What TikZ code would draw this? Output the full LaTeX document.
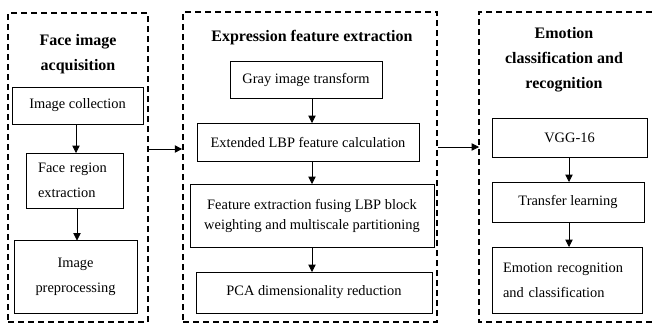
\documentclass[tikz,border=0pt]{standalone}
\usepackage{fontspec}
\setmainfont{Liberation Serif}
\usetikzlibrary{arrows.meta}

\newcommand{\px}{0.75pt}

\tikzset{
	stage/.style={draw, line width=1.3pt, dash pattern=on 4.5pt off 3pt, inner sep=0pt},
	box/.style={draw, line width=0.6pt, inner sep=0pt, outer sep=0pt, align=center,
		font=\fontsize{10.8}{18.75}\selectfont},
	heading/.style={align=center, inner sep=0pt, font=\fontsize{12}{18.5}\selectfont\bfseries},
	flow/.style={-{Triangle[length=5.5pt,width=5.5pt]}, line width=0.6pt},
}

\begin{document}
\begin{tikzpicture}[x=\px, y=-\px]
		\useasboundingbox (0,0) rectangle (652,325);
		
		% three stages, the last one is open to the right
		\node[stage, minimum width=140*\px, minimum height=309*\px] (grpA) at (78,167.5) {};
		\node[stage, minimum width=254*\px, minimum height=310*\px] (grpB) at (310,167) {};
		\draw[stage] (652,12) -| (479,322) -- (652,322);
		\coordinate (grpC) at (479,147);
		
		\node[heading] (hA) at (78,54) {Face image\\acquisition};
		\node[heading] (hB) at (312,38) {Expression feature extraction};
		\node[heading, font=\fontsize{12}{18.9}\selectfont\bfseries] (hC) at (564,60) {Emotion\\classification and\\recognition};
		
		% face image acquisition
		\node[box, minimum width=131*\px, minimum height=37*\px] (a1) at (77.5,105.5) {Image collection};
		\node[box, minimum width=97*\px, minimum height=55*\px, align=left, text width=73*\px] (a2) at (74.5,180.5) {Face region\\extraction};
		\node[box, minimum width=123*\px, minimum height=73*\px] (a3) at (75.5,277) {Image\\preprocessing};
		
		\draw[flow] (a1.south -| 76,0) -- (a2.north -| 76,0);
		\draw[flow] (a2.south -| 77,0) -- (a3.north -| 77,0);
		
		% expression feature extraction
		\node[box, minimum width=152*\px, minimum height=37*\px] (b1) at (306,79.5) {Gray image transform};
		\node[box, minimum width=222*\px, minimum height=38*\px] (b2) at (308,142) {Extended LBP feature calculation};
		\node[box, minimum width=244*\px, minimum height=63*\px, font=\fontsize{10.8}{15}\selectfont] (b3) at (312,215.5) {Feature extraction fusing LBP block\\weighting and multiscale partitioning};
		\node[box, minimum width=236*\px, minimum height=41*\px] (b4) at (314,292.5) {PCA dimensionality reduction};
		
		\coordinate (axB) at (312,0);
		\draw[flow] (b1.south -| axB) -- (b2.north -| axB);
		\draw[flow] (b2.south -| axB) -- (b3.north -| axB);
		\draw[flow] (b3.south -| axB) -- (b4.north -| axB);
		
		% emotion classification and recognition
		\node[box, minimum width=155*\px, minimum height=39*\px] (c1) at (569.5,137.5) {VGG-16};
		\node[box, minimum width=152*\px, minimum height=40*\px] (c2) at (568,202) {Transfer learning};
		\node[box, minimum width=150*\px, minimum height=66*\px, align=left, text width=128*\px] (c3) at (567,280) {Emotion recognition\\and classification};
		
		\coordinate (axC) at (569,0);
		\draw[flow] (c1.south -| axC) -- (c2.north -| axC);
		\draw[flow] (c2.south -| axC) -- (c3.north -| axC);
		
		% between stages
		\draw[flow] (grpA.east |- 0,149) -- (grpB.west |- 0,149);
		\draw[flow] (grpB.east |- 0,147) -- (grpC);
	\end{tikzpicture}
\end{document}
